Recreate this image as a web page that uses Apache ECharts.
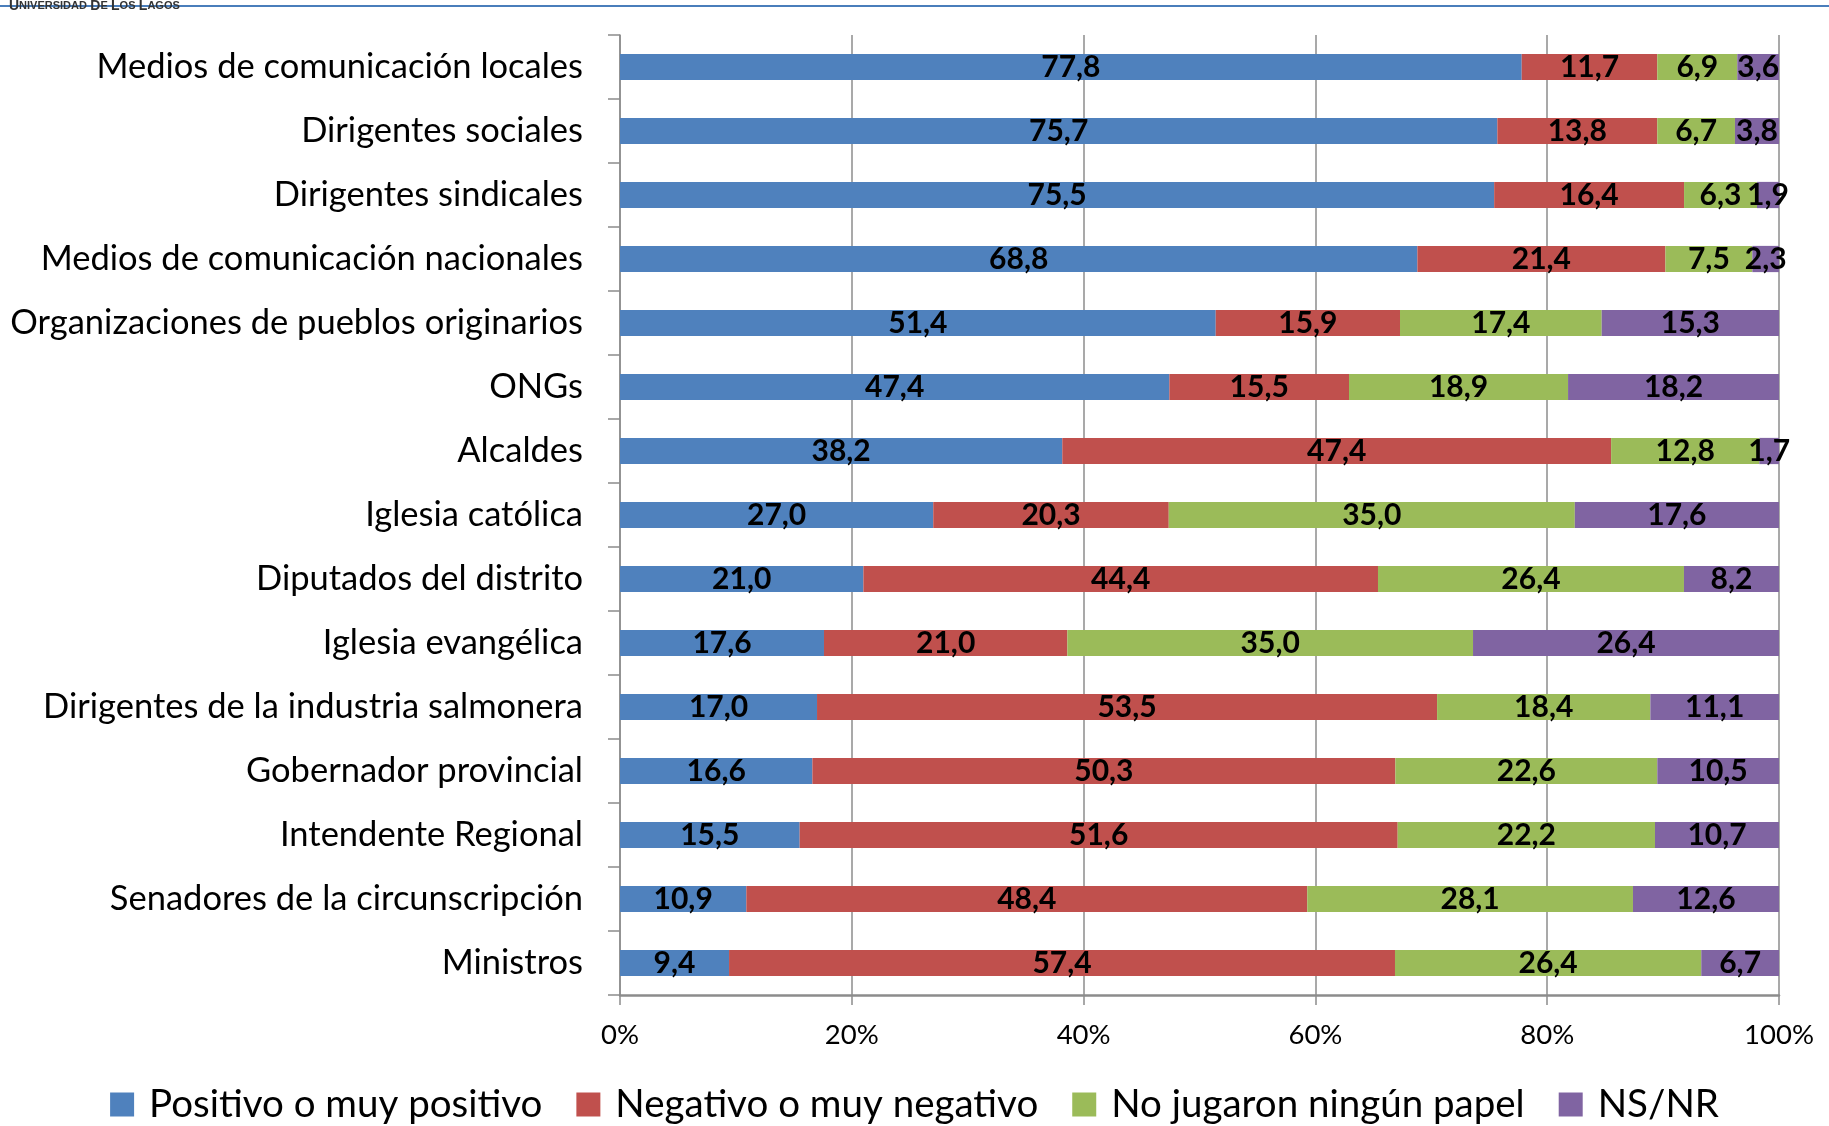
<!DOCTYPE html>
<html>
<head>
<meta charset="utf-8">
<title>Actores</title>
<script src="https://cdn.jsdelivr.net/npm/echarts@6/dist/echarts.min.js"></script>
<style>
  html, body { margin: 0; padding: 0; background: #fff; }
  #chart { width: 1829px; height: 1126px; }
</style>
</head>
<body>
<div id="chart"></div>
<script>
// categorias, de arriba hacia abajo
var categorias = [
  'Medios de comunicación locales',
  'Dirigentes sociales',
  'Dirigentes sindicales',
  'Medios de comunicación nacionales',
  'Organizaciones de pueblos originarios',
  'ONGs',
  'Alcaldes',
  'Iglesia católica',
  'Diputados del distrito',
  'Iglesia evangélica',
  'Dirigentes de la industria salmonera',
  'Gobernador provincial',
  'Intendente Regional',
  'Senadores de la circunscripción',
  'Ministros'
]
var positivo = [77.8, 75.7, 75.5, 68.8, 51.4, 47.4, 38.2, 27.0, 21.0, 17.6, 17.0, 16.6, 15.5, 10.9, 9.4]
var negativo = [11.7, 13.8, 16.4, 21.4, 15.9, 15.5, 47.4, 20.3, 44.4, 21.0, 53.5, 50.3, 51.6, 48.4, 57.4]
var ningunPapel = [6.9, 6.7, 6.3, 7.5, 17.4, 18.9, 12.8, 35.0, 26.4, 35.0, 18.4, 22.6, 22.2, 28.1, 26.4]
var nsnr = [3.6, 3.8, 1.9, 2.3, 15.3, 18.2, 1.7, 17.6, 8.2, 26.4, 11.1, 10.5, 10.7, 12.6, 6.7]
var ticksX = ['0%', '20%', '40%', '60%', '80%', '100%']

var nombres = ['Positivo o muy positivo', 'Negativo o muy negativo', 'No jugaron ningún papel', 'NS/NR']
var colores = ['#4f81bd', '#c0504d', '#9bbb59', '#8064a2']
var valores = [positivo, negativo, ningunPapel, nsnr]

// 100% apilado: cada barra se normaliza a su total
var totales = categorias.map(function (c, i) {
  return positivo[i] + negativo[i] + ningunPapel[i] + nsnr[i]
})

var fuente = 'Lato, "Open Sans", sans-serif'

var series = valores.map(function (arr, s) {
  return {
    name: nombres[s],
    type: 'bar',
    stack: 'total',
    barWidth: '41%',
    itemStyle: { color: colores[s] },
    label: {
      show: true,
      position: 'inside',
      color: '#000',
      fontFamily: fuente,
      fontWeight: 'bold',
      fontSize: 30,
      formatter: function (p) {
        return valores[p.seriesIndex][p.dataIndex].toFixed(1).replace('.', ',')
      }
    },
    data: arr.map(function (v, i) { return v / totales[i] * 100 })
  }
})

var myChart = echarts.init(document.getElementById('chart'))
var options = {
  backgroundColor: '#fff',
  animation: false,
  grid: {
    left: 620,
    right: 50,
    top: 35,
    bottom: 131
  },
  legend: {
    data: nombres,
    left: 'center',
    top: 1080,
    itemWidth: 24,
    itemHeight: 24,
    itemGap: 34,
    icon: 'rect',
    textStyle: {
      fontFamily: fuente,
      fontSize: 38.5,
      color: '#000',
      padding: [0, 0, 0, 10]
    }
  },
  xAxis: {
    type: 'value',
    min: 0,
    max: 100,
    interval: 20,
    axisLine: { show: true, lineStyle: { color: '#8c8c8c', width: 2.5 } },
    axisTick: { show: true, length: 10, lineStyle: { color: '#8c8c8c', width: 1.5 } },
    splitLine: { show: true, lineStyle: { color: '#8c8c8c', width: 1.5 } },
    axisLabel: {
      margin: 26,
      fontFamily: fuente,
      fontSize: 27.5,
      color: '#000',
      formatter: function (v) { return ticksX[Math.round(v / 20)] }
    }
  },
  yAxis: {
    type: 'category',
    inverse: true,
    data: categorias,
    axisLine: { show: true, lineStyle: { color: '#8c8c8c', width: 1.5 } },
    axisTick: { show: true, length: 12, lineStyle: { color: '#8c8c8c', width: 1.5 } },
    axisLabel: {
      margin: 37,
      fontFamily: fuente,
      fontSize: 34.5,
      color: '#000'
    }
  },
  graphic: [
    {
      type: 'line',
      shape: { x1: 0, y1: 6, x2: 1829, y2: 6 },
      style: { stroke: '#4a7ebb', lineWidth: 2 }
    },
    {
      type: 'text',
      left: 9,
      top: -1,
      style: {
        text: '{a|U}{b|NIVERSIDAD} {a|D}{b|E} {a|L}{b|OS} {a|L}{b|AGOS}',
        fill: '#333',
        rich: {
          a: { fontFamily: 'Liberation Sans, sans-serif', fontSize: 14, fill: '#333', fontWeight: 'bold' },
          b: { fontFamily: 'Liberation Sans, sans-serif', fontSize: 11, fill: '#333', fontWeight: 'bold' }
        }
      }
    }
  ],
  series: series
}
myChart.setOption(options)
</script>
</body>
</html>
